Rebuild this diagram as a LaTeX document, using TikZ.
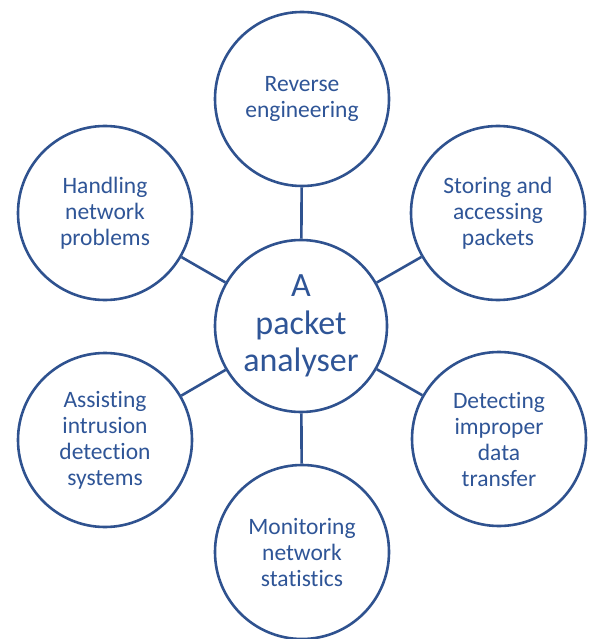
\documentclass[tikz,border=0pt]{standalone}
\usepackage{fontspec}
\setmainfont{Carlito}[Ligatures=NoCommon]
\definecolor{lineblue}{HTML}{2F528F}
\definecolor{textblue}{HTML}{2F5597}
\tikzset{
  bubble/.style={circle, draw=lineblue, line width=2.6pt, fill=white,
    minimum size=174pt, inner sep=0pt, align=center, text=textblue,
    font=\fontsize{23.5pt}{26pt}\selectfont},
  hub/.style={bubble, minimum size=172pt,
    font=\fontsize{34pt}{37.5pt}\selectfont},
  spoke/.style={draw=lineblue, line width=2.6pt}
}
\begin{document}
\begin{tikzpicture}[x=1pt,y=-1pt]
\useasboundingbox (0,0) rectangle (589,639);
\node[hub] (c) at (301,326) {A\\packet\\analyser};
\node[bubble] (t) at (302,99) {Reverse\\engineering};
\node[bubble] (tr) at (498,213) {Storing and\\accessing\\packets};
\node[bubble] (br) at (499,439) {Detecting\\improper\\data\\transfer};
\node[bubble] (b) at (302,552) {Monitoring\\network\\statistics};
\node[bubble] (bl) at (105,440) {Assisting\\intrusion\\detection\\systems};
\node[bubble] (tl) at (105,213) {Handling\\network\\problems};
\foreach \n in {t,tr,br,b,bl,tl} {\draw[spoke] (c) -- (\n);}
\end{tikzpicture}
\end{document}
